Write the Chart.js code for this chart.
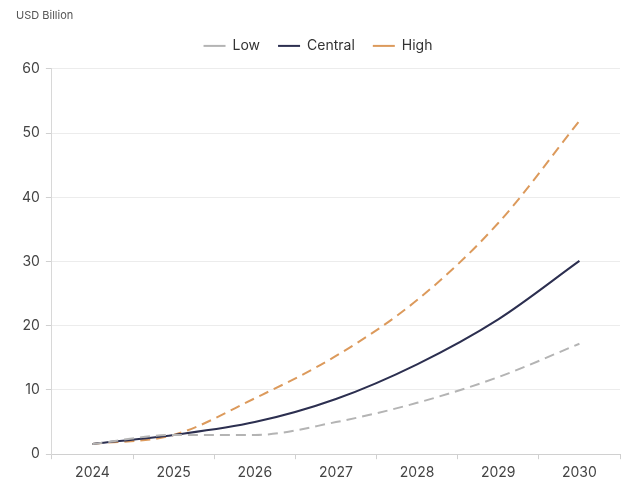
<!DOCTYPE html>
<html>
<head>
<meta charset="utf-8">
<script src="https://cdn.jsdelivr.net/npm/chart.js@4"></script>
<style>
  html, body { margin: 0; padding: 0; background: #fff; }
  #wrap { position: relative; width: 625px; height: 479px; }
</style>
</head>
<body>
<div id="wrap"><canvas id="chart"></canvas></div>
<script>
// Market size scenarios (USD Billion)
const years = ['2024', '2025', '2026', '2027', '2028', '2029', '2030'];
const lowValues = [1.6, 3.0, 3.0, 5.0, 8.0, 12.0, 17.2];
const centralValues = [1.6, 3.0, 5.0, 8.6, 14.0, 21.0, 30.1];
const highValues = [1.6, 3.0, 8.7, 15.3, 24.0, 36.0, 51.9];
const yTicks = [0, 10, 20, 30, 40, 50, 60];

const FONT = 'Inter, "Open Sans", sans-serif';

// give the legend a fixed height so the plot starts lower
const legendHeight = {
    id: 'legendHeight',
    beforeInit(chart) {
        const fit = chart.legend.fit;
        chart.legend.fit = function () {
            fit.call(this);
            this.height = 48;
        };
    }
};

const ctx = document.getElementById('chart').getContext('2d');

new Chart(ctx, {
    type: 'line',
    data: {
        labels: years,
        datasets: [
            {
                label: 'Low',
                data: lowValues,
                borderColor: '#b4b4b4',
                borderWidth: 2,
                borderDash: [10, 6],
                pointRadius: 0,
                cubicInterpolationMode: 'monotone'
            },
            {
                label: 'Central',
                data: centralValues,
                borderColor: '#2c2f50',
                borderWidth: 2,
                pointRadius: 0,
                cubicInterpolationMode: 'monotone'
            },
            {
                label: 'High',
                data: highValues,
                borderColor: '#dc9a5c',
                borderWidth: 2,
                borderDash: [10, 6],
                pointRadius: 0,
                cubicInterpolationMode: 'monotone'
            }
        ]
    },
    options: {
        responsive: true,
        maintainAspectRatio: false,
        animation: false,
        layout: { padding: { left: 16, right: 5, top: 0, bottom: -7 } },
        plugins: {
            title: {
                display: true,
                text: 'USD Billion',
                align: 'start',
                color: '#555',
                font: { family: FONT, size: 11, weight: 'normal', lineHeight: 0.9 },
                padding: { top: 11, bottom: 0 }
            },
            legend: {
                position: 'top',
                labels: {
                    usePointStyle: true,
                    pointStyle: 'line',
                    pointStyleWidth: 22,
                    boxHeight: 2,
                    color: '#333',
                    font: { family: FONT, size: 14 },
                    padding: 18
                }
            },
            tooltip: { enabled: false }
        },
        scales: {
            x: {
                offset: true,
                grid: {
                    offset: true,
                    drawOnChartArea: false,
                    drawTicks: true,
                    tickLength: 5,
                    color: '#d0d0d0'
                },
                border: { color: '#d0d0d0' },
                ticks: {
                    color: '#444',
                    font: { family: FONT, size: 14 },
                    padding: 5
                }
            },
            y: {
                min: 0,
                max: 60,
                afterBuildTicks: (axis) => {
                    axis.ticks = yTicks.map(v => ({ value: v }));
                },
                grid: {
                    color: '#ececec',
                    tickLength: 6,
                    tickColor: '#d0d0d0'
                },
                border: { color: '#d8d8d8' },
                ticks: {
                    color: '#444',
                    font: { family: FONT, size: 14 },
                    padding: 6
                }
            }
        }
    },
    plugins: [legendHeight]
});
</script>
</body>
</html>
